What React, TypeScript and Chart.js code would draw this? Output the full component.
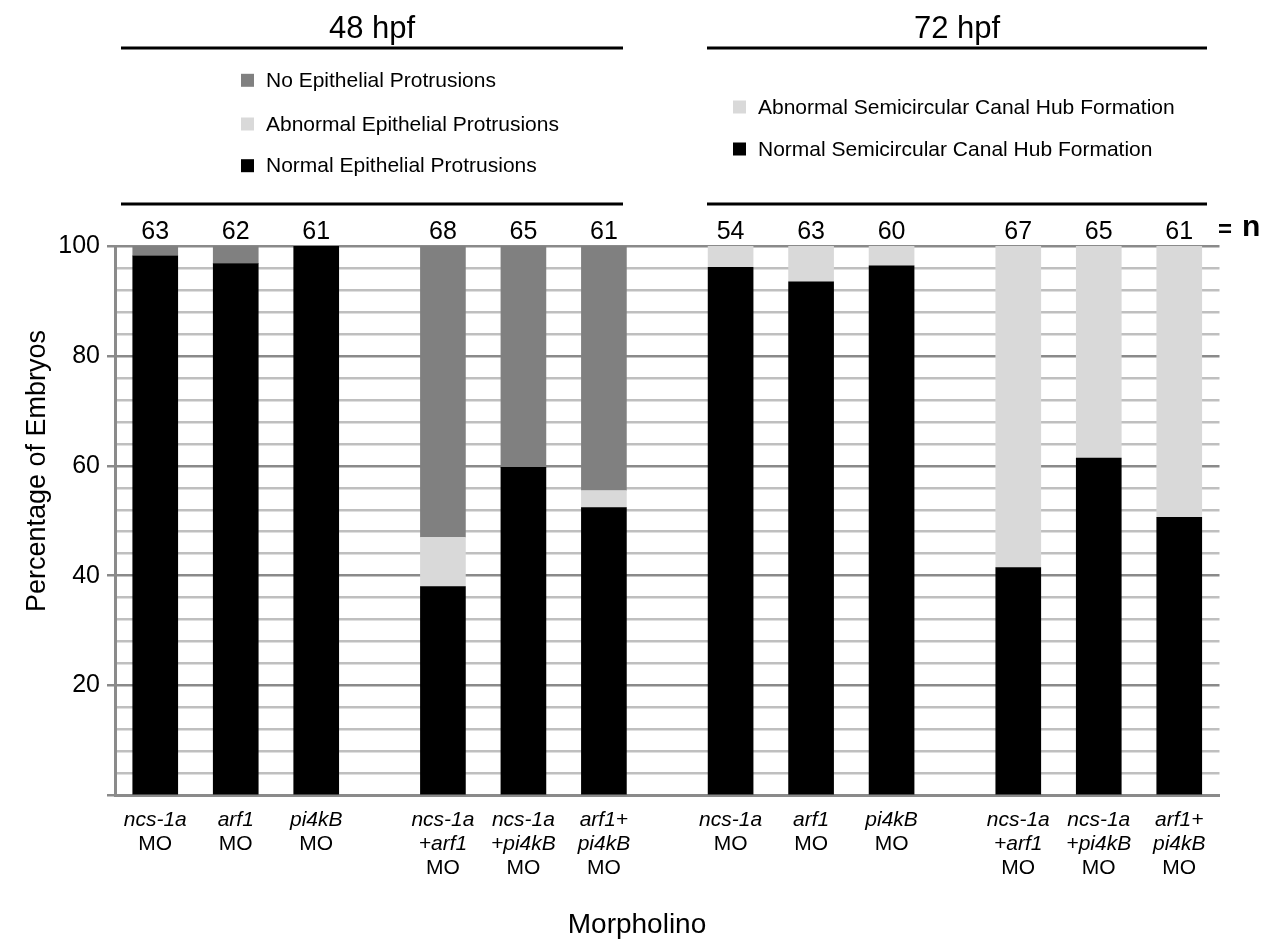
import React, { useEffect, useRef } from 'react';
import { Chart, registerables, CategoryScale } from 'chart.js';

Chart.register(...registerables);

// ---------------- data ----------------
const categories: string[][] = [
  ['ncs-1a', 'MO'],
  ['arf1', 'MO'],
  ['pi4kB', 'MO'],
  ['ncs-1a', '+arf1', 'MO'],
  ['ncs-1a', '+pi4kB', 'MO'],
  ['arf1+', 'pi4kB', 'MO'],
  ['ncs-1a', 'MO'],
  ['arf1', 'MO'],
  ['pi4kB', 'MO'],
  ['ncs-1a', '+arf1', 'MO'],
  ['ncs-1a', '+pi4kB', 'MO'],
  ['arf1+', 'pi4kB', 'MO'],
];
const nValues = [63, 62, 61, 68, 65, 61, 54, 63, 60, 67, 65, 61];

const normalEpithelial = [98.2, 96.8, 100, 38.0, 59.7, 52.4, null, null, null, null, null, null];
const abnormalEpithelial = [0, 0, 0, 9.0, 0, 3.1, null, null, null, null, null, null];
const noEpithelial = [1.8, 3.2, 0, 53.0, 40.3, 44.5, null, null, null, null, null, null];
const normalHub = [null, null, null, null, null, null, 96.1, 93.5, 96.4, 41.5, 61.4, 50.6];
const abnormalHub = [null, null, null, null, null, null, 3.9, 6.5, 3.6, 58.5, 38.6, 49.4];

const timepoints = ['48 hpf', '72 hpf'];
const labeledTicks = [20, 40, 60, 80, 100];

// ---------------- styling ----------------
const FONT = "'Liberation Sans', Arial, Helvetica, sans-serif";
const COL_NO = '#808080';
const COL_ABN = '#d9d9d9';
const COL_NORMAL = '#000000';
const GRID_MAJOR = '#8a8a8a';
const GRID_MINOR = '#bfbfbf';
const GROUP_SIZE = 3;
const GROUP_GAP = 0.574; // extra gap between groups, in slot units

class GroupedCategoryScale extends CategoryScale {
  static id = 'groupedCategory';
  static defaults = {};
  getPixelForValue(value: any) {
    let v = value;
    if (typeof v !== 'number') v = (this as any).parse(v);
    if (v === null || v === undefined || isNaN(v)) return NaN;
    const n = (this as any).getLabels().length;
    const groups = Math.ceil(n / GROUP_SIZE);
    const total = n + (groups - 1) * GROUP_GAP;
    const g = Math.min(groups - 1, Math.max(0, Math.floor(v / GROUP_SIZE)));
    const units = v + 0.5 + g * GROUP_GAP;
    return (this as any).left + (units / total) * (this as any).width;
  }
}
Chart.register(GroupedCategoryScale as any);

const decorPlugin = {
  id: 'decor',
  afterDraw(chart: any) {
    const ctx = chart.ctx as CanvasRenderingContext2D;
    const xs = chart.scales.x;
    const area = chart.chartArea;
    ctx.save();
    ctx.fillStyle = '#000';
    ctx.strokeStyle = '#000';

    // headers
    const headers = [
      { text: timepoints[0], x0: 113, x1: 615 },
      { text: timepoints[1], x0: 699, x1: 1199 },
    ];
    headers.forEach((h) => {
      ctx.font = `31px ${FONT}`;
      ctx.textAlign = 'center';
      ctx.textBaseline = 'alphabetic';
      ctx.fillText(h.text, (h.x0 + h.x1) / 2, 30);
      ctx.lineWidth = 3;
      ctx.beginPath();
      ctx.moveTo(h.x0, 40);
      ctx.lineTo(h.x1, 40);
      ctx.moveTo(h.x0, 196);
      ctx.lineTo(h.x1, 196);
      ctx.stroke();
    });

    // legends
    const ds = chart.data.datasets;
    const legends = [
      { items: [ds[2], ds[1], ds[0]], x: 233, ys: [72.3, 116, 157.7] },
      { items: [ds[4], ds[3]], x: 725, ys: [99, 141] },
    ];
    legends.forEach((lg) => {
      lg.items.forEach((d: any, i: number) => {
        const y = lg.ys[i];
        ctx.fillStyle = d.backgroundColor;
        ctx.fillRect(lg.x, y - 6.5, 13, 13);
        ctx.fillStyle = '#000';
        ctx.font = `21px ${FONT}`;
        ctx.textAlign = 'left';
        ctx.textBaseline = 'middle';
        ctx.fillText(d.label, lg.x + 25, y + 1);
      });
    });

    // n values
    ctx.font = `25px ${FONT}`;
    ctx.textAlign = 'center';
    ctx.textBaseline = 'middle';
    nValues.forEach((n, i) => {
      ctx.fillText(String(n), xs.getPixelForValue(i), 224);
    });
    ctx.textAlign = 'left';
    ctx.font = `bold 24px ${FONT}`;
    ctx.fillText('=', 1210, 222);
    ctx.font = `bold 30px ${FONT}`;
    ctx.fillText('n', 1234, 220);

    // category labels
    ctx.textAlign = 'center';
    categories.forEach((lines, i) => {
      const x = xs.getPixelForValue(i);
      lines.forEach((line, j) => {
        ctx.font = `${line === 'MO' ? '' : 'italic '}21px ${FONT}`;
        ctx.fillText(line, x, area.bottom + 24.5 + j * 24);
      });
    });

    // axis titles
    ctx.font = `28px ${FONT}`;
    ctx.fillText('Morpholino', 629, 917);
    ctx.font = `27px ${FONT}`;
    ctx.translate(30, 463);
    ctx.rotate(-Math.PI / 2);
    ctx.fillText('Percentage of Embryos', 0, 0);
    ctx.restore();
  },
};

export default function App() {
  const ref = useRef<HTMLCanvasElement>(null);
  useEffect(() => {
    if (!ref.current) return;
    const mk = (label: string, data: (number | null)[], color: string) => ({
      label,
      data,
      backgroundColor: color,
      borderWidth: 0,
      barThickness: 45,
    });
    const chart = new Chart(ref.current, {
      type: 'bar',
      data: {
        labels: categories,
        datasets: [
          mk('Normal Epithelial Protrusions', normalEpithelial, COL_NORMAL),
          mk('Abnormal Epithelial Protrusions', abnormalEpithelial, COL_ABN),
          mk('No Epithelial Protrusions', noEpithelial, COL_NO),
          mk('Normal Semicircular Canal Hub Formation', normalHub, COL_NORMAL),
          mk('Abnormal Semicircular Canal Hub Formation', abnormalHub, COL_ABN),
        ] as any,
      },
      options: {
        responsive: false,
        animation: false,
        events: [],
        layout: { padding: { left: 0, right: 45.5, top: 238, bottom: 143.5 } },
        plugins: { legend: { display: false }, tooltip: { enabled: false }, title: { display: false } },
        scales: {
          x: {
            type: 'groupedCategory' as any,
            stacked: true,
            grid: { display: false },
            ticks: { display: false },
            border: { display: true, color: GRID_MAJOR, width: 3 },
            afterFit: (s: any) => {
              s.height = 0;
            },
          },
          y: {
            stacked: true,
            min: 0,
            max: 100,
            afterFit: (s: any) => {
              s.width = 107;
            },
            ticks: {
              stepSize: 4,
              maxTicksLimit: 40,
              autoSkip: false,
              padding: 7,
              color: '#000',
              font: { family: FONT, size: 25 },
              callback: (v: any) => (labeledTicks.includes(Number(v)) ? String(v) : ''),
            },
            grid: {
              drawTicks: true,
              tickLength: 8,
              lineWidth: 2.5,
              color: (c: any) => (c.tick && c.tick.value % 20 === 0 ? GRID_MAJOR : GRID_MINOR),
              tickColor: (c: any) => (c.tick && c.tick.value % 20 === 0 ? GRID_MAJOR : 'rgba(0,0,0,0)'),
              tickWidth: 2.5,
            },
            border: { display: true, color: GRID_MAJOR, width: 3 },
          },
        },
      },
      plugins: [decorPlugin],
    });
    return () => chart.destroy();
  }, []);
  return (
    <div style={{ width: 1257, height: 931 }}>
      <canvas ref={ref} width={1257} height={931} style={{ display: 'block' }} />
    </div>
  );
}
